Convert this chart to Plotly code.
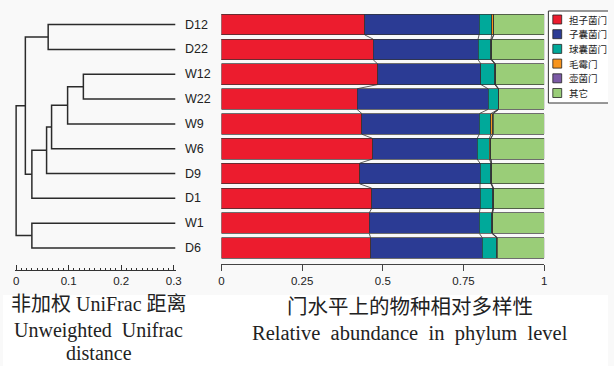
import numpy as np
import plotly.graph_objects as go

W, H = 614, 366

samples = ["D12", "D22", "W12", "W22", "W9", "W6", "D9", "D1", "W1", "D6"]
phyla = ["担子菌门", "子囊菌门", "球囊菌门", "毛霉门", "壶菌门", "其它"]
colors = ["#EC1C2E", "#2B3B94", "#00A99A", "#F7941D", "#7B5AA6", "#9ACD78"]

basidiomycota = [0.444, 0.470, 0.484, 0.420, 0.435, 0.468, 0.428, 0.465, 0.458, 0.462]
ascomycota = [0.354, 0.325, 0.320, 0.406, 0.364, 0.324, 0.373, 0.336, 0.341, 0.346]
glomeromycota = [0.039, 0.040, 0.043, 0.031, 0.036, 0.038, 0.034, 0.040, 0.039, 0.045]
mucoromycota = [0.006, 0.002, 0.001, 0.001, 0.006, 0.004, 0.001, 0.001, 0.001, 0.001]
chytridiomycota = [0.001, 0.001, 0.001, 0.001, 0.001, 0.001, 0.001, 0.001, 0.001, 0.001]
others = [0.156, 0.162, 0.151, 0.141, 0.158, 0.165, 0.163, 0.157, 0.160, 0.145]
series = [basidiomycota, ascomycota, glomeromycota, mucoromycota, chytridiomycota, others]

# dendrogram merges: (child A, child B, node position on the distance axis)
merges = [
    ("D12", "D22", 0.061),
    ("W12", "W22", 0.128),
    ("m1", "W9", 0.098),
    ("m2", "W6", 0.0675),
    ("m3", "D9", 0.058),
    ("m4", "D1", 0.030),
    ("m0", "m5", 0.0176),
    ("W1", "D6", 0.030),
    ("m6", "m7", 0.0),
]
leaf_x = 0.303
dist_ticks = [0, 0.05, 0.1, 0.15, 0.2, 0.25, 0.3]
dist_ticktext = ["0", "", "0.1", "", "0.2", "", "0.3"]
abund_ticks = [0, 0.25, 0.5, 0.75, 1]
abund_ticktext = ["0", "0.25", "0.5", "0.75", "1"]


def px(x):
    return x / W


def py(y):
    return 1 - y / H


fig = go.Figure()

idx = list(range(len(samples)))
for name, vals, col in zip(phyla, series, colors):
    fig.add_trace(go.Bar(
        x=vals, y=idx, orientation="h", name=name,
        marker=dict(color=col, line=dict(color="#333333", width=0.7)),
        showlegend=False, xaxis="x", yaxis="y", hoverinfo="skip",
    ))

bargap = 0.17
half = (1 - bargap) / 2
cum = np.cumsum(np.array(series), axis=0)  # boundaries per sample
cx, cy = [], []
for i in range(len(samples) - 1):
    for k in range(cum.shape[0] - 1):
        cx += [cum[k, i], cum[k, i + 1], None]
        cy += [i + half, i + 1 - half, None]
fig.add_trace(go.Scatter(x=cx, y=cy, mode="lines", line=dict(color="#333333", width=0.8),
                         showlegend=False, hoverinfo="skip", xaxis="x", yaxis="y"))

# dendrogram
pos = {s: (leaf_x, i) for i, s in enumerate(samples)}
dx, dy = [], []
for j, (a, b, h) in enumerate(merges):
    (ax_, ay), (bx, by) = pos[a], pos[b]
    dx += [ax_, h, h, bx, None]
    dy += [ay, ay, by, by, None]
    pos["m%d" % j] = (h, (ay + by) / 2)
fig.add_trace(go.Scatter(x=dx, y=dy, mode="lines", line=dict(color="#2b2b2b", width=1.5),
                         showlegend=False, hoverinfo="skip", xaxis="x2", yaxis="y"))

annotations = []
for i, s in enumerate(samples):
    annotations.append(dict(x=leaf_x, y=i, xref="x2", yref="y", text=s, showarrow=False,
                            xanchor="left", yanchor="middle", xshift=8,
                            font=dict(family="Liberation Sans, Arial", size=12.5, color="#222")))

# legend (manual, compact) - box open on the right edge
lx0, ly0, ly1 = px(553.5), py(11), py(103)
shapes = [
    dict(type="rect", xref="paper", yref="paper", x0=lx0, x1=1, y0=ly1, y1=ly0,
         line=dict(width=0), fillcolor="white", layer="below"),
    dict(type="path", xref="paper", yref="paper",
         path=f"M 1,{ly0} L {lx0},{ly0} L {lx0},{ly1} L 1,{ly1}",
         line=dict(color="#333", width=1)),
]
for k, (name, col) in enumerate(zip(phyla, colors)):
    yc = 19.5 + 14.7 * k
    shapes.append(dict(type="rect", xref="paper", yref="paper", x0=px(558), x1=px(567),
                       y0=py(yc + 4.5), y1=py(yc - 4.5), fillcolor=col, line=dict(color="#222", width=0.8)))
    annotations.append(dict(x=px(572), y=py(yc), xref="paper", yref="paper", text=name, showarrow=False,
                            xanchor="left", yanchor="middle",
                            font=dict(family="Noto Sans CJK SC", size=9.5, color="#222")))

# lower white panel
shapes.append(dict(type="rect", xref="paper", yref="paper", x0=0, x1=1, y0=0, y1=py(295),
                   fillcolor="white", line=dict(width=0), layer="below"))

serif = "Liberation Serif, Noto Sans CJK SC"
cap = [
    ("非加权 UniFrac 距离", 97, 304, 20),
    ("Unweighted  Unifrac", 97, 330, 20),
    ("distance", 97, 353, 20),
    ("门水平上的物种相对多样性", 413, 307, 20.5),
    ("Relative  abundance  in  phylum  level", 413, 333, 20.5),
]
for t, x, y, fs in cap:
    annotations.append(dict(x=px(x), y=py(y), xref="paper", yref="paper", text=t, showarrow=False,
                            xanchor="center", yanchor="middle",
                            font=dict(family=serif, size=fs, color="#222")))

x2_lo, x2_hi = -0.002, 0.304
scale = 533.3
fig.update_layout(
    width=W, height=H, margin=dict(l=0, r=0, t=0, b=0),
    paper_bgcolor="#f9f9f9", plot_bgcolor="rgba(0,0,0,0)",
    barmode="stack", bargap=bargap,
    showlegend=False,
    xaxis=dict(domain=[px(221.7), px(549.3)], range=[0, 1], anchor="free", position=py(264.3),
               showline=True, linecolor="#444", linewidth=1, ticks="outside", ticklen=6, tickcolor="#444",
               tickvals=abund_ticks, ticktext=abund_ticktext, showgrid=False, zeroline=False,
               tickfont=dict(family="Liberation Sans, Arial", size=11.5, color="#222")),
    xaxis2=dict(domain=[px(13.3 + x2_lo * scale), px(13.3 + x2_hi * scale)], range=[x2_lo, x2_hi],
                anchor="free", position=py(270.3),
                showline=True, linecolor="#333", linewidth=1, ticks="inside", ticklen=5, tickcolor="#333",
                tickvals=dist_ticks, ticktext=dist_ticktext, showgrid=False, zeroline=False,
                minor=dict(tickvals=list(np.round(np.arange(0, 0.3001, 0.01), 2)), ticks="inside",
                           ticklen=2.5, tickcolor="#333", showgrid=False),
                tickfont=dict(family="Liberation Sans, Arial", size=11.5, color="#222")),
    yaxis=dict(domain=[py(260.4), py(12.2)], range=[9.5, -0.5], visible=False, showgrid=False, zeroline=False),
    shapes=shapes, annotations=annotations,
)

css = ("var s=document.createElement('style');"
       "s.textContent='html,body{margin:0;padding:0;width:614px;height:366px;overflow:hidden;}"
       ".plotly-graph-div{display:block;}';"
       "document.head.appendChild(s);")
fig.write_html("out.html", config={"displayModeBar": False}, post_script=css)
